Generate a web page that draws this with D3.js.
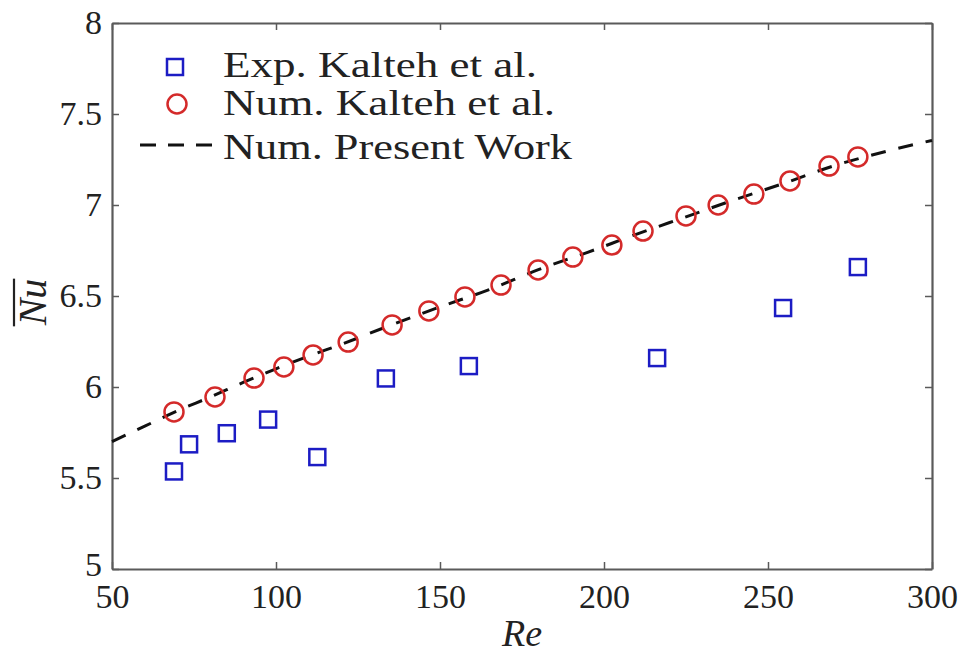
<!DOCTYPE html>
<html>
<head>
<meta charset="utf-8" />
<title>Nu vs Re</title>
<script src="https://d3js.org/d3.v7.min.js"></script>
<style>
  body { margin: 0; background: #fff; }
</style>
</head>
<body>
<script>
// experimental data (Kalteh et al.)
var expRe = [68.9, 73.5, 85.0, 97.6, 112.6, 133.5, 158.8, 216.2, 254.6, 277.4];
var expNu = [5.536, 5.685, 5.746, 5.821, 5.615, 6.047, 6.115, 6.159, 6.434, 6.659];

// numerical data (Kalteh et al.)
var numRe = [68.9, 81.4, 93.3, 102.4, 111.3, 122.0, 135.4, 146.6, 157.6, 168.6,
             179.9, 190.5, 202.4, 211.9, 225.0, 234.8, 245.7, 256.7, 268.6, 277.4];
var numNu = [5.863, 5.945, 6.049, 6.110, 6.176, 6.247, 6.341, 6.418, 6.495, 6.560,
             6.643, 6.714, 6.780, 6.857, 6.940, 7.000, 7.060, 7.132, 7.214, 7.264];

// present work (dashed curve)
var presRe = [50, 60, 70, 80, 90, 100, 110, 120, 135, 150, 165, 180, 195, 210, 225, 240, 255, 270, 285, 300];
var presNu = [5.70, 5.785, 5.87, 5.945, 6.025, 6.10, 6.17, 6.235, 6.34, 6.44, 6.535, 6.645, 6.74, 6.84, 6.935, 7.03, 7.12, 7.215, 7.29, 7.355];

var xTicks = [50, 100, 150, 200, 250, 300];
var xTickLabels = ["50", "100", "150", "200", "250", "300"];
var yTicks = [5, 5.5, 6, 6.5, 7, 7.5, 8];
var yTickLabels = ["5", "5.5", "6", "6.5", "7", "7.5", "8"];

var legendLabels = ["Exp. Kalteh et al.", "Num. Kalteh et al.", "Num. Present Work"];

var W = 965, H = 654;
var margin = { left: 112, top: 23, right: 33, bottom: 85 };
var w = W - margin.left - margin.right,
    h = H - margin.top - margin.bottom;

var blue = "#1c1cc4", red = "#d42a2a", axisCol = "#5a5a5a";
var serif = "'Liberation Serif'";

var svg = d3.select("body").append("svg")
    .attr("width", W)
    .attr("height", H);

var g = svg.append("g")
    .attr("transform", "translate(" + margin.left + "," + margin.top + ")");

var x = d3.scaleLinear().domain([50, 300]).range([0, w]);
var y = d3.scaleLinear().domain([5, 8]).range([h, 0]);

// axes
var xAxis = d3.axisBottom(x).tickValues(xTicks)
    .tickFormat(function(d, i){ return xTickLabels[i]; })
    .tickSizeInner(-7).tickSizeOuter(0).tickPadding(15);
var yAxis = d3.axisLeft(y).tickValues(yTicks)
    .tickFormat(function(d, i){ return yTickLabels[i]; })
    .tickSizeInner(-7).tickSizeOuter(0).tickPadding(10);

var gx = g.append("g").attr("transform", "translate(0," + h + ")").call(xAxis);
var gy = g.append("g").call(yAxis);
var gt = g.append("g").call(d3.axisTop(x).tickValues(xTicks).tickFormat("").tickSizeInner(-7).tickSizeOuter(0));
var gr = g.append("g").attr("transform", "translate(" + w + ",0)")
    .call(d3.axisRight(y).tickValues(yTicks).tickFormat("").tickSizeInner(-7).tickSizeOuter(0));

[gx, gy, gt, gr].forEach(function(a){
  a.attr("font-family", null).attr("font-size", null);
  a.select(".domain").attr("stroke", axisCol).attr("stroke-width", 2.2);
  a.selectAll(".tick line").attr("stroke", axisCol).attr("stroke-width", 1.5);
  a.selectAll(".tick text")
    .attr("fill", "#222")
    .style("font-family", serif)
    .style("font-size", "34px");
});
// lift the bottom-most y label a little, as in the original
gy.selectAll(".tick text").filter(function(d){ return d === 5; }).attr("dy", "0.2em");

// present work dashed line
var line = d3.line()
    .x(function(d){ return x(d[0]); })
    .y(function(d){ return y(d[1]); })
    .curve(d3.curveMonotoneX);

g.append("path")
    .datum(d3.zip(presRe, presNu))
    .attr("d", line)
    .attr("fill", "none")
    .attr("stroke", "#111")
    .attr("stroke-width", 3)
    .attr("stroke-dasharray", "15,13");

// numerical circles
g.selectAll("circle.num")
    .data(d3.zip(numRe, numNu))
    .enter().append("circle")
    .attr("class", "num")
    .attr("cx", function(d){ return x(d[0]); })
    .attr("cy", function(d){ return y(d[1]); })
    .attr("r", 9.5)
    .attr("fill", "none")
    .attr("stroke", red)
    .attr("stroke-width", 2.5);

// experimental squares
var sq = 16;
g.selectAll("rect.exp")
    .data(d3.zip(expRe, expNu))
    .enter().append("rect")
    .attr("class", "exp")
    .attr("x", function(d){ return x(d[0]) - sq / 2; })
    .attr("y", function(d){ return y(d[1]) - sq / 2; })
    .attr("width", sq)
    .attr("height", sq)
    .attr("fill", "none")
    .attr("stroke", blue)
    .attr("stroke-width", 2.5);

// legend
var lg = svg.append("g");
var rowY = [66, 104, 148];
var textX = 223;
var widths = [314, 332, 349];

lg.append("rect")
    .attr("x", 175 - sq / 2).attr("y", rowY[0] - sq / 2 + 1)
    .attr("width", sq).attr("height", sq)
    .attr("fill", "none").attr("stroke", blue).attr("stroke-width", 2.5);
lg.append("circle")
    .attr("cx", 177).attr("cy", rowY[1]).attr("r", 9.5)
    .attr("fill", "none").attr("stroke", red).attr("stroke-width", 2.5);
lg.append("line")
    .attr("x1", 140).attr("x2", 212).attr("y1", rowY[2] - 3).attr("y2", rowY[2] - 3)
    .attr("stroke", "#111").attr("stroke-width", 3)
    .attr("stroke-dasharray", "16,12");

lg.selectAll("text")
    .data(legendLabels)
    .enter().append("text")
    .attr("x", textX)
    .attr("y", function(d, i){ return rowY[i] + 11; })
    .attr("textLength", function(d, i){ return widths[i]; })
    .attr("lengthAdjust", "spacingAndGlyphs")
    .style("font-family", serif)
    .style("font-size", "35px")
    .attr("fill", "#222")
    .text(function(d){ return d; });

// axis titles
svg.append("text")
    .attr("x", margin.left + w / 2)
    .attr("y", 646)
    .attr("text-anchor", "middle")
    .style("font-family", serif)
    .style("font-size", "38px")
    .style("font-style", "italic")
    .attr("fill", "#222")
    .text("Re");

var yt = "translate(46," + (margin.top + h / 2 + 6) + ") rotate(-90)";
var yl = svg.append("text")
    .attr("transform", yt)
    .attr("text-anchor", "middle")
    .style("font-family", serif)
    .style("font-size", "40px")
    .style("font-style", "italic")
    .attr("fill", "#222")
    .text("Nu");
var bb = yl.node().getBBox();
// overline above the glyphs (in rotated frame)
svg.append("line")
    .attr("transform", yt)
    .attr("x1", bb.x).attr("x2", bb.x + bb.width)
    .attr("y1", -32).attr("y2", -32)
    .attr("stroke", "#222").attr("stroke-width", 2.2);
</script>
</body>
</html>
